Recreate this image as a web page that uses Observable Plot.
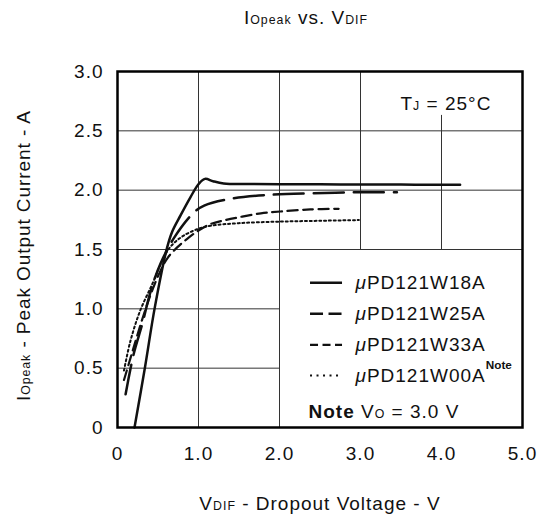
<!DOCTYPE html>
<html><head><meta charset="utf-8">
<script src="https://cdn.jsdelivr.net/npm/d3@7"></script>
<script src="https://cdn.jsdelivr.net/npm/@observablehq/plot@0.6"></script>
<style>
body{margin:0;background:#fff}
svg text{letter-spacing:1px}
</style>
</head><body><div id="chart"></div>
<script>
// ---- data ----
const xTicks = [0, 1, 2, 3, 4, 5];
const xTickLabels = ["0", "1.0", "2.0", "3.0", "4.0", "5.0"];
const yTicks = [0, 0.5, 1, 1.5, 2, 2.5, 3];
const yTickLabels = ["0", "0.5", "1.0", "1.5", "2.0", "2.5", "3.0"];

const seriesNames = ["μPD121W18A", "μPD121W25A", "μPD121W33A", "μPD121W00A"];
const legendLabels = ["~{μ}PD121W18A", "~{μ}PD121W25A", "~{μ}PD121W33A", "~{μ}PD121W00A^{Note}"];

const v18 = [0.21, 0.34, 0.46, 0.61, 0.675, 0.78, 0.90, 1.00, 1.08, 1.18, 1.31, 1.6, 2.0, 2.5, 3.0, 3.5, 4.0, 4.23];
const i18 = [0, 0.51, 1.01, 1.51, 1.65, 1.79, 1.94, 2.05, 2.095, 2.075, 2.057, 2.052, 2.05, 2.049, 2.048, 2.047, 2.046, 2.045];

const v25 = [0.10, 0.20, 0.305, 0.41, 0.53, 0.70, 0.94, 1.07, 1.42, 1.93, 2.42, 2.96, 3.45];
const i25 = [0.28, 0.62, 0.87, 1.15, 1.38, 1.60, 1.81, 1.87, 1.93, 1.963, 1.974, 1.982, 1.982];

const v33 = [0.08, 0.18, 0.30, 0.42, 0.53, 0.62, 0.74, 0.86, 1.0, 1.15, 1.31, 1.5, 1.77, 2.01, 2.38, 2.73];
const i33 = [0.40, 0.63, 0.90, 1.14, 1.32, 1.43, 1.52, 1.59, 1.66, 1.715, 1.745, 1.772, 1.805, 1.82, 1.838, 1.843];

const v00 = [0.08, 0.16, 0.28, 0.43, 0.55, 0.65, 0.80, 1.0, 1.15, 1.5, 2.0, 2.5, 2.98];
const i00 = [0.48, 0.73, 0.985, 1.21, 1.40, 1.52, 1.61, 1.675, 1.70, 1.722, 1.735, 1.742, 1.748];

const titleText = "I_{Opeak} vs. V_{DIF}";
const xTitle = "V_{DIF} - Dropout Voltage - V";
const yTitle = "I_{Opeak} - Peak Output Current - A";
const tjText = "T_{J} = 25°C";
const noteText = "*{Note} V_{O} = 3.0 V";

// ---- build ----
const toRows = (name, vs, is) => vs.map((v, k) => ({name, v, i: is[k]}));
const s18 = toRows(seriesNames[0], v18, i18);
const s25 = toRows(seriesNames[1], v25, i25);
const s33 = toRows(seriesNames[2], v33, i33);
const s00 = toRows(seriesNames[3], v00, i00);

const styles = [
  {strokeWidth: 2.5, strokeDasharray: null, legendDash: null, legendWidth: 2.5},
  {strokeWidth: 2.5, strokeDasharray: "30,10", legendDash: "13,5.5", legendWidth: 2.5},
  {strokeWidth: 2.2, strokeDasharray: "10,5.5", legendDash: "8,4.5", legendWidth: 2.2},
  {strokeWidth: 2, strokeDasharray: "2,2.8", legendDash: "2,4.5", legendWidth: 2}
];
const seriesData = [s18, s25, s33, s00];

const rowY = [1.219, 0.958, 0.697, 0.438];
const legendRows = legendLabels.map((t, k) => ({t, y: rowY[k], k}));

const marks = [
  // grid
  Plot.ruleX(xTicks.filter(d => d === 1 || d === 2), {y1: () => 0, y2: () => 3, stroke: "#333", strokeWidth: 1}),
  Plot.ruleX(xTicks.filter(d => d === 3), {y1: () => 1.5, y2: () => 3, stroke: "#333", strokeWidth: 1}),
  Plot.ruleX(xTicks.filter(d => d === 4), {y1: () => 1.5, y2: () => 2.63, stroke: "#333", strokeWidth: 1}),
  Plot.ruleY(yTicks.filter(d => d >= 1.5 && d < 3), {x1: () => 0, x2: () => 5, stroke: "#333", strokeWidth: 1}),
  Plot.ruleY(yTicks.filter(d => d > 0 && d < 1.5), {x1: () => 0, x2: () => 2, stroke: "#333", strokeWidth: 1}),
];
seriesData.forEach((s, k) => {
  marks.push(Plot.line(s, {x: "v", y: "i", curve: "catmull-rom", stroke: "#111",
    strokeWidth: styles[k].strokeWidth, strokeDasharray: styles[k].strokeDasharray}));
});
legendRows.forEach(r => {
  marks.push(Plot.ruleY([r.y], {x1: () => 2.383, x2: () => 2.778, stroke: "#111",
    strokeWidth: styles[r.k].legendWidth, strokeDasharray: styles[r.k].legendDash}));
});
marks.push(Plot.text(legendRows, {x: () => 2.938, y: "y", text: "t", textAnchor: "start", fill: "#111"}));
marks.push(Plot.text([tjText], {x: () => 3.494, y: () => 2.73, text: d => d, textAnchor: "start", fill: "#111"}));
marks.push(Plot.text([noteText], {x: () => 2.358, y: () => 0.131, text: d => d, textAnchor: "start", fill: "#111"}));
marks.push(Plot.frame({stroke: "#000", strokeWidth: 2.5}));

const svg = Plot.plot({
  width: 537, height: 520,
  marginTop: 71, marginBottom: 93, marginLeft: 117, marginRight: 15,
  style: {fontFamily: "'Liberation Sans', Arial, sans-serif", fontSize: "19px", background: "#fff", color: "#111", overflow: "visible"},
  x: {domain: [0, 5], ticks: xTicks, tickFormat: d => xTickLabels[xTicks.indexOf(d)], tickSize: 0, tickPadding: 19, label: null},
  y: {domain: [0, 3], ticks: yTicks, tickFormat: d => yTickLabels[yTicks.indexOf(d)], tickSize: 0, tickPadding: 14, label: null},
  marks
});

// rich text: _{sub} ^{sup bold} *{bold} ~{italic}
function rich(el, src) {
  const re = /([_^*~])\{([^}]*)\}/g;
  const parts = [];
  let last = 0, m;
  while ((m = re.exec(src))) {
    if (m.index > last) parts.push({t: src.slice(last, m.index), k: ""});
    parts.push({t: m[2], k: m[1]});
    last = re.lastIndex;
  }
  if (last < src.length) parts.push({t: src.slice(last), k: ""});
  while (el.firstChild) el.removeChild(el.firstChild);
  let raised = 0;
  parts.forEach(p => {
    const ts = document.createElementNS("http://www.w3.org/2000/svg", "tspan");
    ts.textContent = p.t;
    if (raised) { ts.setAttribute("dy", raised); raised = 0; }
    if (p.k === "_") ts.setAttribute("font-size", "0.65em");
    if (p.k === "^") { ts.setAttribute("font-size", "0.62em"); ts.setAttribute("font-weight", "bold"); ts.setAttribute("dy", -13); ts.style.letterSpacing = "0px"; raised = 13; }
    if (p.k === "*") ts.setAttribute("font-weight", "bold");
    if (p.k === "~") ts.setAttribute("font-style", "italic");
    el.appendChild(ts);
  });
}

const S = d3.select(svg);
S.selectAll("text").each(function () {
  const t = this.textContent;
  if (/[_^*~]\{/.test(t)) rich(this, t);
});

const tTitle = S.append("text").attr("x", 306).attr("y", 24).attr("text-anchor", "middle").attr("fill", "#111");
rich(tTitle.node(), titleText);
const tX = S.append("text").attr("x", 320).attr("y", 510).attr("text-anchor", "middle").attr("fill", "#111");
rich(tX.node(), xTitle);
const tY = S.append("text").attr("transform", "translate(30,256) rotate(-90)").attr("text-anchor", "middle").attr("fill", "#111")
  .style("letter-spacing", "0px").attr("textLength", 290).attr("lengthAdjust", "spacing");
rich(tY.node(), yTitle);

document.getElementById("chart").appendChild(svg);
</script>
</body></html>
